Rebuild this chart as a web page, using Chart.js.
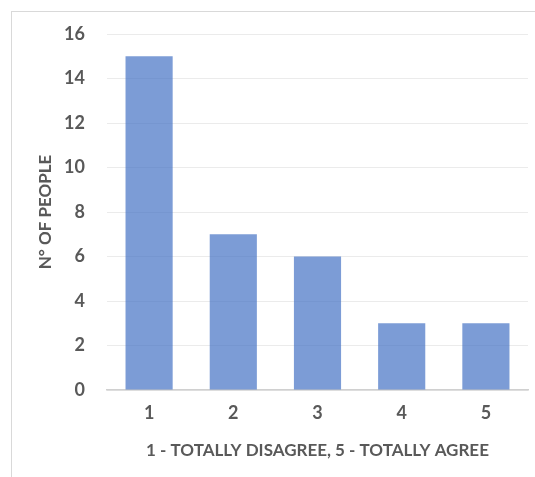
<!DOCTYPE html>
<html>
<head>
<meta charset="utf-8">
<script src="https://cdn.jsdelivr.net/npm/chart.js@4/dist/chart.umd.min.js"></script>
<style>
  html, body { margin: 0; padding: 0; background: #fff; }
  canvas { display: block; }
</style>
</head>
<body>
<canvas id="answers" width="535" height="477"></canvas>
<script>
// answer scale and how many people picked each value
const categories = ['1', '2', '3', '4', '5'];
const people = [15, 7, 6, 3, 3];
const yTicks = [0, 2, 4, 6, 8, 10, 12, 14, 16];

const textGray = '#595959';
const labelFont = { family: 'Lato, "Open Sans", sans-serif', size: 18, weight: 'bold' };
const titleFont = { family: 'Lato, "Open Sans", sans-serif', size: 17, weight: 'bold' };

// light frame round the whole chart
const frame = {
    id: 'frame',
    beforeDraw(chart) {
        const c = chart.ctx;
        c.save();
        c.fillStyle = '#ffffff';
        c.fillRect(0, 0, chart.width, chart.height);
        c.strokeStyle = '#d9d9d9';
        c.lineWidth = 1;
        c.strokeRect(11.5, 11.5, chart.width, chart.height);
        c.restore();
    }
};

new Chart(document.getElementById('answers'), {
    type: 'bar',
    data: {
        labels: categories,
        datasets: [{
            data: people,
            backgroundColor: 'rgba(68, 114, 196, 0.7)',
            borderWidth: 0,
            categoryPercentage: 1,
            barPercentage: 0.56
        }]
    },
    options: {
        responsive: false,
        animation: false,
        layout: {
            padding: { top: 34, right: 7, left: 0, bottom: 0 }
        },
        scales: {
            x: {
                grid: { display: false, drawTicks: false },
                border: { display: true, color: '#d0d0d0', width: 1.5 },
                ticks: { color: textGray, font: labelFont, padding: 12 },
                title: {
                    display: true,
                    text: '1 - TOTALLY DISAGREE, 5 - TOTALLY AGREE',
                    color: textGray,
                    font: titleFont,
                    padding: { top: 4, bottom: 16 }
                },
                afterFit(scale) { scale.height = 87; }
            },
            y: {
                min: yTicks[0],
                max: yTicks[yTicks.length - 1],
                grid: { color: '#ebebeb', lineWidth: 1, drawTicks: false },
                border: { display: false },
                ticks: {
                    stepSize: yTicks[1] - yTicks[0],
                    color: textGray,
                    font: labelFont,
                    padding: 22
                },
                title: {
                    display: true,
                    text: 'N° OF PEOPLE',
                    color: textGray,
                    font: titleFont,
                    padding: { top: 35, bottom: 0 }
                },
                afterFit(scale) { scale.width = 107; }
            }
        },
        plugins: {
            legend: { display: false },
            tooltip: { enabled: false }
        }
    },
    plugins: [frame]
});
</script>
</body>
</html>
